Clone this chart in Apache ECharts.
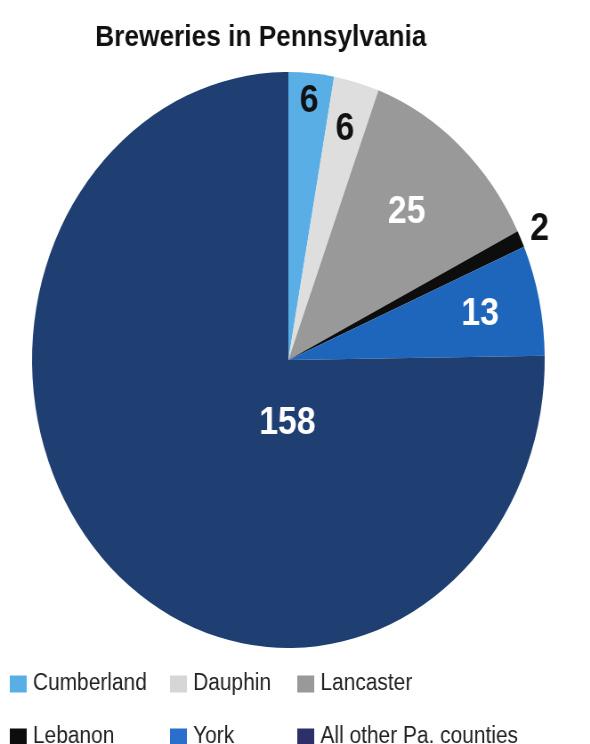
<!DOCTYPE html>
<html>
<head>
<meta charset="utf-8">
<script src="https://cdn.jsdelivr.net/npm/echarts@6/dist/echarts.min.js"></script>
<style>
  html, body { margin: 0; padding: 0; background: #ffffff; overflow: hidden; }
  #wrap { width: 590px; height: 744px; overflow: hidden; position: relative; }
  #chart { width: 663px; height: 744px; transform: scaleX(0.89); transform-origin: 0 0; }
</style>
</head>
<body>
<div id="wrap"><div id="chart"></div></div>
<script>
// ---- data ----
const titleText = 'Breweries in Pennsylvania';
const categories = ['Cumberland', 'Dauphin', 'Lancaster', 'Lebanon', 'York', 'All other Pa. counties'];
const values = [6, 6, 25, 2, 13, 158];

// ---- styles ----
const sliceColors = ['#5aaee6', '#dedede', '#999999', '#0d0d0d', '#1e66bb', '#1f3f73'];
const legendSwatchColors = ['#5aaee6', '#d6d6d6', '#999999', '#0d0d0d', '#2a6fcc', '#2d2f68'];
const labelColors = ['#111111', '#111111', '#ffffff', '#111111', '#ffffff', '#ffffff'];
const labelRadiusRatio = [0.90, 0.83, 0.69, 1.08, 0.765, 0.22];
const labelAngleOverride = [null, null, null, null, null, 181];

const CX = 324, CY = 360, R = 288;
const total = values.reduce((a, b) => a + b, 0);
const midAngles = [];
{
  let acc = 0;
  values.forEach(v => { midAngles.push((acc + v / 2) / total * 360); acc += v; });
}

const chart = echarts.init(document.getElementById('chart'), null, { renderer: 'canvas' });

// legend grid: 3 columns x 2 rows
const legendLefts = [11, 191, 334];
const legendTops = [672, 725];
const legendCell = [[0, 0], [1, 0], [2, 0], [0, 1], [1, 1], [2, 1]]; // [col, row] per category

const option = {
  backgroundColor: '#ffffff',
  animation: false,
  title: {
    text: titleText,
    left: 102,
    top: 18,
    textStyle: { fontFamily: 'Liberation Sans, Arial, sans-serif', fontWeight: 'bold', fontSize: 29.5, color: '#111111' }
  },
  legend: categories.map((name, i) => ({
    orient: 'horizontal',
    left: legendLefts[legendCell[i][0]],
    top: legendTops[legendCell[i][1]],
    itemWidth: 19,
    itemHeight: 17,
    icon: 'rect',
    selectedMode: false,
    padding: 0,
    textStyle: { fontFamily: 'Liberation Sans, Arial, sans-serif', fontSize: 23.5, color: '#222222', padding: [0, 0, 0, 2], lineHeight: 24 },
    data: [{ name: name, itemStyle: { color: legendSwatchColors[i] } }]
  })),
  series: [{
    type: 'pie',
    center: [CX, CY],
    radius: [0, R],
    startAngle: 90,
    clockwise: true,
    avoidLabelOverlap: false,
    label: {
      show: true,
      position: 'inside',
      formatter: '{c}',
      fontFamily: 'Liberation Sans, Arial, sans-serif',
      fontWeight: 'bold',
      fontSize: 38
    },
    labelLine: { show: false },
    emphasis: { disabled: true },
    labelLayout: function (p) {
      const i = p.dataIndex;
      const ang = (labelAngleOverride[i] != null ? labelAngleOverride[i] : midAngles[i]) * Math.PI / 180;
      const r = R * labelRadiusRatio[i];
      return { x: CX + r * Math.sin(ang), y: CY - r * Math.cos(ang), align: 'center', verticalAlign: 'middle' };
    },
    data: categories.map((name, i) => ({
      name: name,
      value: values[i],
      itemStyle: { color: sliceColors[i] },
      label: { color: labelColors[i] }
    }))
  }]
};
chart.setOption(option);
</script>
</body>
</html>
